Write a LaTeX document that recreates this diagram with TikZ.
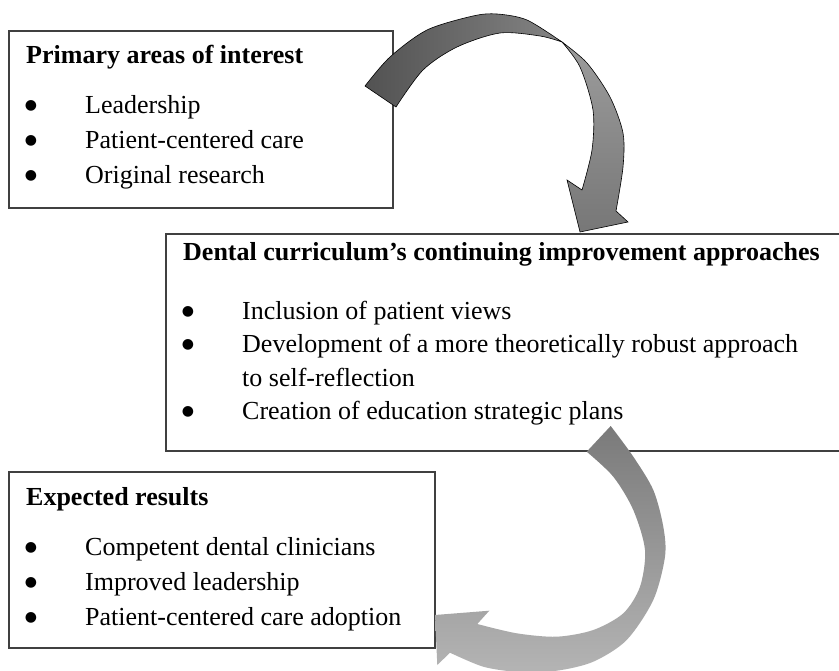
\documentclass[tikz,border=0pt]{standalone}
\usepackage{fontspec}
\setmainfont{Liberation Serif}
\newfontfamily\symfont{DejaVu Sans}
\definecolor{boxline}{HTML}{404040}
\definecolor{aOneDark}{HTML}{525252}
\definecolor{aOneMid}{HTML}{848484}
\definecolor{aOneLtTop}{HTML}{9C9C9C}
\definecolor{aOneLtBot}{HTML}{777777}
\definecolor{aTwoTop}{HTML}{7A7A7A}
\definecolor{aTwoBot}{HTML}{B4B4B4}
\tikzset{
  box/.style={draw=boxline, line width=1.2pt, fill=white, inner sep=0pt, outer sep=0pt},
  ttl/.style={anchor=base west, inner sep=0pt, font=\fontsize{26}{35}\selectfont\bfseries},
  itm/.style={anchor=base west, inner sep=0pt, font=\fontsize{26}{35}\selectfont},
  bul/.style={anchor=base, inner sep=0pt, font=\symfont\fontsize{14}{16}\selectfont, yshift=4pt},
  arrowdark/.style={left color=aOneDark, right color=aOneMid, draw=black, line width=0.6pt},
  arrowlight/.style={top color=aOneLtTop, bottom color=aOneLtBot, draw=black, line width=0.6pt},
  arrowpale/.style={top color=aTwoTop, bottom color=aTwoBot},
}
\begin{document}
\begin{tikzpicture}[x=1pt,y=-1pt]
\useasboundingbox (0,0) rectangle (839,671);
\clip (0,0) rectangle (839,671);
\fill[white] (0,0) rectangle (839,671);

% Box 1
\node[box, minimum width=384pt, minimum height=177pt] (b1) at (201,119.5) {};
\node[ttl] (t1) at (26,64) {Primary areas of interest};
\node[bul] (p11) at (31,114) {●};
\node[itm] (i11) at (85,114) {Leadership};
\node[bul] (p12) at (31,149) {●};
\node[itm] (i12) at (85,149) {Patient-centered care};
\node[bul] (p13) at (31,184) {●};
\node[itm] (i13) at (85,184) {Original research};

% Box 2
\node[box, minimum width=682pt, minimum height=217pt] (b2) at (507,342.5) {};
\node[ttl] (t2) at (183,261) {Dental curriculum’s continuing improvement approaches};
\node[bul] (p21) at (188,320) {●};
\node[itm] (i21) at (242,320) {Inclusion of patient views};
\node[bul] (p22) at (188,353) {●};
\node[itm] (i22) at (242,353) {Development of a more theoretically robust approach};
\node[itm] (i23) at (242,386) {to self-reflection};
\node[bul] (p24) at (188,420) {●};
\node[itm] (i24) at (242,420) {Creation of education strategic plans};

% Box 3
\node[box, minimum width=426pt, minimum height=176pt] (b3) at (222,560) {};
\node[ttl] (t3) at (26,505) {Expected results};
\node[bul] (p31) at (31,555) {●};
\node[itm] (i31) at (85,555) {Competent dental clinicians};
\node[bul] (p32) at (31,590) {●};
\node[itm] (i32) at (85,590) {Improved leadership};
\node[bul] (p33) at (31,625) {●};
\node[itm] (i33) at (85,625) {Patient-centered care adoption};

% Arrow 1 (box 1 -> box 2), dark part
\shade[arrowdark]
  plot[smooth] coordinates {(365,86) (390,57) (427,30) (473,16) (497,14) (527,20) (562,42)}
  -- plot[smooth] coordinates {(562,42) (540,36) (500,33) (457,47) (423,70) (396,107)}
  -- cycle;
% Arrow 1, light part with head
\shade[arrowlight]
  plot[smooth] coordinates {(562,42) (587,63) (610,97) (623,133) (623,167) (616,211)}
  -- (628,222) -- (580,232) -- (567,180) -- (582,190)
  -- plot[smooth] coordinates {(582,190) (592,150) (593,110) (580,67) (562,42)}
  -- cycle;

% Arrow 2 (box 2 -> box 3)
\shade[arrowpale]
  plot[smooth] coordinates {(610.7,426) (633.3,456.7) (653.3,490) (663.3,526.7) (665,556.7) (653.3,600) (626.7,640) (593.3,661.7) (556.7,670.7) (516.7,671.7) (483.3,666.7) (450,652.7)}
  -- (437.3,665) -- (435,615) -- (489.3,610.7) -- (477.3,624)
  -- plot[smooth] coordinates {(477.3,624) (516.7,633.3) (556.7,636.7) (593.3,630) (623.3,613.3) (640,586.7) (645,550) (633.3,510) (613.3,476.7) (586.7,451.7)}
  -- cycle;
\end{tikzpicture}
\end{document}
